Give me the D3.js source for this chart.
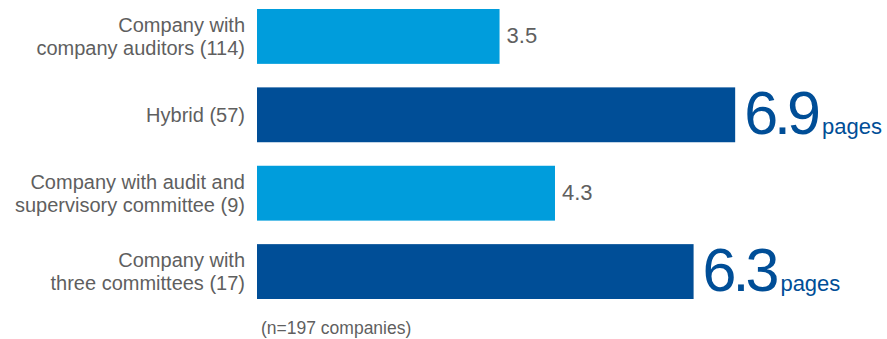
<!DOCTYPE html>
<html>
<head>
<meta charset="utf-8">
<script src="https://cdn.jsdelivr.net/npm/d3@7"></script>
<style>
  html, body { margin: 0; padding: 0; background: #fff; }
  svg { display: block; font-family: "Liberation Sans", Arial, sans-serif; }
</style>
</head>
<body>
<svg id="chart" width="887" height="339"></svg>
<script>
// Average page count by governance structure
const categories = [
  ["Company with", "company auditors (114)"],
  ["Hybrid (57)"],
  ["Company with audit and", "supervisory committee (9)"],
  ["Company with", "three committees (17)"]
];
const values = [3.5, 6.9, 4.3, 6.3];
const highlight = [false, true, false, true];
const unitLabel = "pages";
const footnote = "(n=197 companies)";

const lightBlue = "#009ddc";
const darkBlue = "#004e97";
const grey = "#5f5f5f";

const svg = d3.select("#chart");
const x0 = 257;
const x = d3.scaleLinear().domain([0, 1]).range([x0, x0 + 69.3]);
const y = d3.scaleBand().domain(d3.range(values.length)).range([9, 299]).paddingInner(0.3).paddingOuter(0);

const rows = svg.selectAll("g.row").data(values).join("g").attr("class", "row");

rows.append("rect")
  .attr("x", x(0))
  .attr("y", (d, i) => y(i))
  .attr("width", d => x(d) - x(0))
  .attr("height", y.bandwidth())
  .attr("fill", (d, i) => highlight[i] ? darkBlue : lightBlue);

// Category labels, right-aligned against the bars
rows.each(function (d, i) {
  const lines = categories[i];
  const cy = y(i) + y.bandwidth() / 2;
  const lh = 23;
  const t = d3.select(this).append("text")
    .attr("text-anchor", "end")
    .attr("fill", grey)
    .attr("font-size", 20);
  lines.forEach((ln, k) => {
    t.append("tspan")
      .attr("x", 245)
      .attr("y", cy + 7 + (k - (lines.length - 1) / 2) * lh)
      .text(ln);
  });
});

// Value labels: plain for regular rows, large with unit for highlighted rows
rows.each(function (d, i) {
  const cy = y(i) + y.bandwidth() / 2;
  const g = d3.select(this);
  if (highlight[i]) {
    const big = g.append("text")
      .attr("x", x(d) + 9)
      .attr("y", cy + 19)
      .attr("fill", darkBlue)
      .attr("font-size", 61)
      .attr("letter-spacing", -4)
      .text(d3.format(".1f")(d));
    const w = big.node().getComputedTextLength();
    g.append("text")
      .attr("x", x(d) + 9 + w + 5)
      .attr("y", cy + 19)
      .attr("fill", darkBlue)
      .attr("font-size", 22)
      .text(unitLabel);
  } else {
    g.append("text")
      .attr("x", x(d) + 7)
      .attr("y", cy + 6.5)
      .attr("fill", grey)
      .attr("font-size", 22)
      .text(d3.format(".1f")(d));
  }
});

svg.append("text")
  .attr("x", 261)
  .attr("y", 334)
  .attr("fill", grey)
  .attr("font-size", 17.5)
  .text(footnote);
</script>
</body>
</html>
